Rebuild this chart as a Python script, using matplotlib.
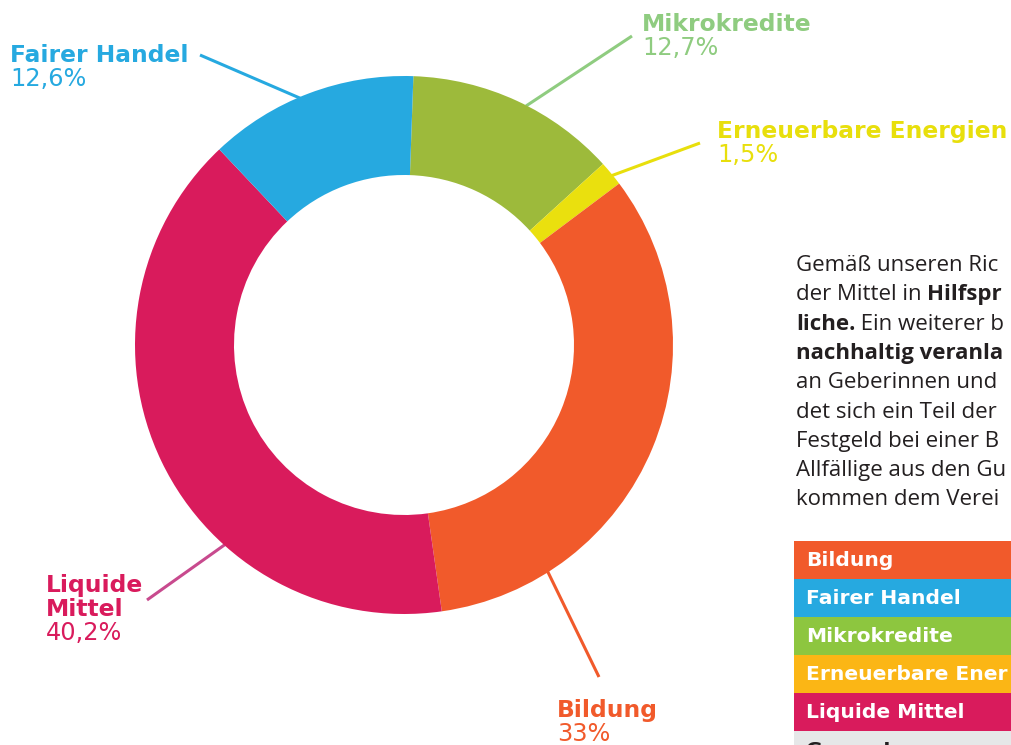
import matplotlib
matplotlib.use("Agg")
import matplotlib.pyplot as plt
from matplotlib.patches import Rectangle

# ---- data ----
categories = ["Mikrokredite", "Erneuerbare Energien", "Bildung", "Liquide Mittel", "Fairer Handel"]
values = [12.7, 1.5, 33.0, 40.2, 12.6]
value_labels = ["12,7%", "1,5%", "33%", "40,2%", "12,6%"]
wedge_colors = ["#9DBA3B", "#EAE00E", "#F15A2B", "#D91B5C", "#26A9E0"]
label_colors = ["#8FCC80", "#E8DF0C", "#F15A2B", "#D91B5C", "#26A9E0"]
line_colors = ["#8FCC80", "#E8DF0C", "#F15A2B", "#C84A8E", "#26A9E0"]

table_labels = ["Bildung", "Fairer Handel", "Mikrokredite", "Erneuerbare Ener", "Liquide Mittel", "Gesamt"]
table_colors = ["#F15A2B", "#26A9E0", "#8DC63F", "#FBB615", "#D91B5C", "#E6E7E8"]

para_lines = [
    [("Gemäß unseren Ric", "normal")],
    [("der Mittel in ", "normal"), ("Hilfspr", "bold")],
    [("liche.", "bold"), (" Ein weiterer b", "normal")],
    [("nachhaltig veranla", "bold")],
    [("an Geberinnen und", "normal")],
    [("det sich ein Teil der", "normal")],
    [("Festgeld bei einer B", "normal")],
    [("Allfällige aus den Gu", "normal")],
    [("kommen dem Verei", "normal")],
]

W, H = 1011, 745
fig = plt.figure(figsize=(W / 100, H / 100), dpi=100)
ax = fig.add_axes([0, 0, 1, 1])

def Y(py):
    return H - py

cx, cy, R = 404, 345, 269
ax.pie(values, colors=wedge_colors, startangle=88, counterclock=False,
       center=(cx, Y(cy)), radius=R, frame=True,
       wedgeprops=dict(width=R - 170, edgecolor="none", linewidth=0))
ax.set_xlim(0, W)
ax.set_ylim(0, H)
ax.set_aspect("equal")
ax.axis("off")

name_font = ["DejaVu Sans"]
pct_font = ["DejaVu Sans"]
name_fs = 16.8
pct_fs = 17.3
labels_layout = {
    "Mikrokredite": dict(xy=(642, 31), lines=["Mikrokredite"], seg=((632, 36), (526, 106))),
    "Erneuerbare Energien": dict(xy=(717, 138), lines=["Erneuerbare Energien"], seg=((700, 143), (608, 177))),
    "Bildung": dict(xy=(557, 717), lines=["Bildung"], seg=((599, 677), (545, 566))),
    "Liquide Mittel": dict(xy=(46, 592), lines=["Liquide", "Mittel"], seg=((147, 600), (230, 541))),
    "Fairer Handel": dict(xy=(10, 62), lines=["Fairer Handel"], seg=((200, 55), (302, 99))),
}
for cat, vl, lc, lnc in zip(categories, value_labels, label_colors, line_colors):
    lay = labels_layout[cat]
    x0, yb = lay["xy"]
    (x1, y1), (x2, y2) = lay["seg"]
    ax.plot([x1, x2], [Y(y1), Y(y2)], color=lnc, lw=2.2, zorder=0.5, solid_capstyle="butt")
    for i, ln in enumerate(lay["lines"]):
        ax.text(x0, Y(yb + i * 24), ln, color=lc, fontsize=name_fs, fontweight="bold",
                family=name_font, va="baseline", ha="left")
    ax.text(x0, Y(yb + len(lay["lines"]) * 24), vl, color=lc, fontsize=pct_fs,
            fontweight="normal", family=pct_font, va="baseline", ha="left")

# paragraph
renderer = fig.canvas.get_renderer()
px, py0, dy = 796, 271, 29.3
for i, parts in enumerate(para_lines):
    x = px
    for s, w in parts:
        t = ax.text(x, Y(py0 + i * dy), s, fontsize=16, fontweight=w,
                    family="Open Sans", color="#231F20", va="baseline", ha="left")
        x = t.get_window_extent(renderer=renderer).x1

# table
ty0, th = 541, 38
for i, (lab, col) in enumerate(zip(table_labels, table_colors)):
    top = ty0 + i * th
    ax.add_patch(Rectangle((794, Y(top + th)), 300, th, facecolor=col, edgecolor="none",
                           clip_on=False))
    tc = "white" if i < len(table_labels) - 1 else "#231F20"
    ax.text(806, Y(top + th / 2 + 1), lab, color=tc, fontsize=14.6, fontweight="bold",
            family=name_font, va="center", ha="left")

fig.savefig("out.png", dpi=100)
